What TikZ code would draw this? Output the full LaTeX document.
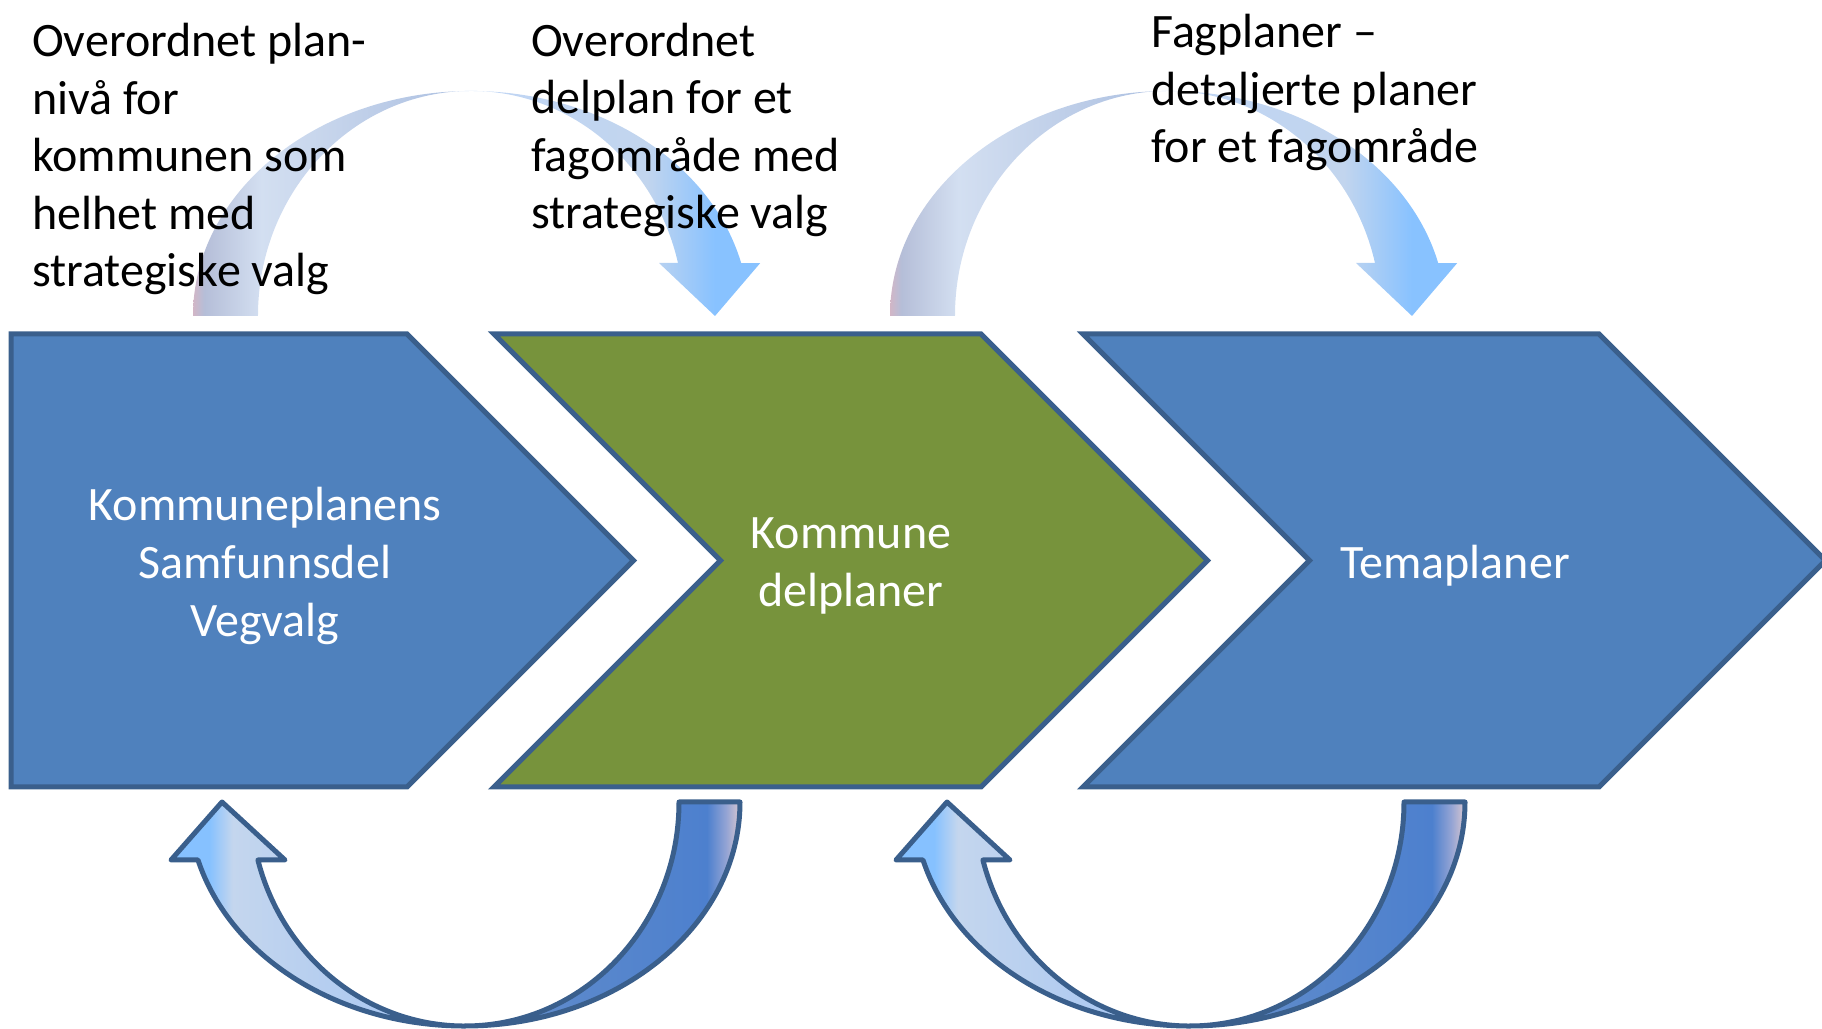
\documentclass[tikz,border=0pt]{standalone}
\usepackage{fontspec}
\setmainfont{Carlito}
\usepackage{tikz}

\definecolor{chevblue}{HTML}{4F81BD}
\definecolor{chevgreen}{HTML}{77933C}
\definecolor{chevline}{HTML}{3A5F8C}
% top arrows
\definecolor{ta0}{HTML}{D2B6C6}
\definecolor{ta1}{HTML}{B5BED8}
\definecolor{ta2}{HTML}{D3DFF1}
\definecolor{ta3}{HTML}{AFC2E2}
\definecolor{ta4}{HTML}{BFD5F5}
\definecolor{ta5}{HTML}{C2D5EE}
\definecolor{ta6}{HTML}{88C2FF}
% bottom arrows
\definecolor{bl0}{HTML}{86C1FF}
\definecolor{bl1}{HTML}{C4D6EE}
\definecolor{bl2}{HTML}{B2CCF0}
\definecolor{bl3}{HTML}{9DC2F6}
\definecolor{bd0}{HTML}{7096CC}
\definecolor{bd1}{HTML}{5A88CC}
\definecolor{bd2}{HTML}{4D80CE}
\definecolor{bd3}{HTML}{94A4D4}
\definecolor{bd4}{HTML}{D8C6D0}

\pgfdeclarehorizontalshading{toparrow}{100bp}{color(0bp)=(ta0); color(25bp)=(ta0);
  color(26bp)=(ta1); color(31bp)=(ta2); color(47.5bp)=(ta3); color(49bp)=(ta4);
  color(65bp)=(ta5); color(71bp)=(ta6); color(100bp)=(ta6)}
\pgfdeclarehorizontalshading{bandlight}{100bp}{color(0bp)=(bl0); color(31.5bp)=(bl0);
  color(35.5bp)=(bl1); color(55bp)=(bl2); color(75bp)=(bl3); color(100bp)=(bl3)}
\pgfdeclarehorizontalshading{banddark}{100bp}{color(0bp)=(bd0); color(25bp)=(bd0);
  color(45bp)=(bd1); color(69bp)=(bd2); color(72.5bp)=(bd3); color(75bp)=(bd4);
  color(100bp)=(bd4)}

\begin{document}
\begin{tikzpicture}[x=1pt,y=1pt,
  chevron/.style={draw=chevline,line width=5pt},
  bandline/.style={draw=chevline,line width=5pt,line join=round},
  toptext/.style={font=\fontsize{48}{57.6}\selectfont,align=left,inner sep=0pt},
  chevtext/.style={font=\fontsize{48}{57.6}\selectfont,align=center,inner sep=0pt,text=white}]
\useasboundingbox (0,0) rectangle (1822,1028);

% curved arrows above
\foreach \cx in {471,1168}
  \shade[shading=toparrow] (\cx-278,712)
    arc[start angle=180,end angle=90,x radius=278,y radius=225]
    arc[start angle=90,end angle=13.6,x radius=278,y radius=225]
    -- ++(19,0) -- (\cx+244,712) -- (\cx+188,765) -- (\cx+207,765)
    arc[start angle=13.6,end angle=90,x radius=213,y radius=225]
    arc[start angle=90,end angle=180,x radius=213,y radius=225] -- cycle;

% curved arrows below
\foreach \cx in {465,1190}{
  \shadedraw[bandline,shading=banddark] (\cx+275,226)
    arc[start angle=0,end angle=-90,x radius=275,y radius=224]
    arc[start angle=-90,end angle=0,x radius=214,y radius=224] -- cycle;
  \shadedraw[bandline,shading=bandlight] (\cx-243,226) -- (\cx-294,168) -- (\cx-267,168)
    arc[start angle=195,end angle=270,x radius=276,y radius=224]
    arc[start angle=270,end angle=195,x radius=214,y radius=224]
    -- (\cx-180,168) -- cycle;
}

% chevrons
\draw[chevron,fill=chevblue] (11,694) -- (407,694) -- (633.5,467.5) -- (407,241) -- (11,241) -- cycle;
\draw[chevron,fill=chevgreen] (494,694) -- (981,694) -- (1207.5,467.5) -- (981,241) -- (494,241) -- (720.5,467.5) -- cycle;
\draw[chevron,fill=chevblue] (1083,694) -- (1599,694) -- (1825.5,467.5) -- (1599,241) -- (1083,241) -- (1309.5,467.5) -- cycle;

\node[chevtext] (samf) at (265,462) {Kommuneplanens\\Samfunnsdel\\Vegvalg};
\node[chevtext] (kdel) at (851,462) {Kommune\\delplaner};
\node[chevtext] (tema) at (1455,462) {Temaplaner};

\node[toptext,anchor=base west] (plan) at (32,741) {Overordnet plan-\\nivå for\\kommunen som\\helhet med\\strategiske valg};
\node[toptext,anchor=base west] (delplan) at (531,799) {Overordnet\\delplan for et\\fagområde med\\strategiske valg};
\node[toptext,anchor=base west] (fag) at (1151,865) {Fagplaner –\\detaljerte planer\\for et fagområde};
\end{tikzpicture}
\end{document}
